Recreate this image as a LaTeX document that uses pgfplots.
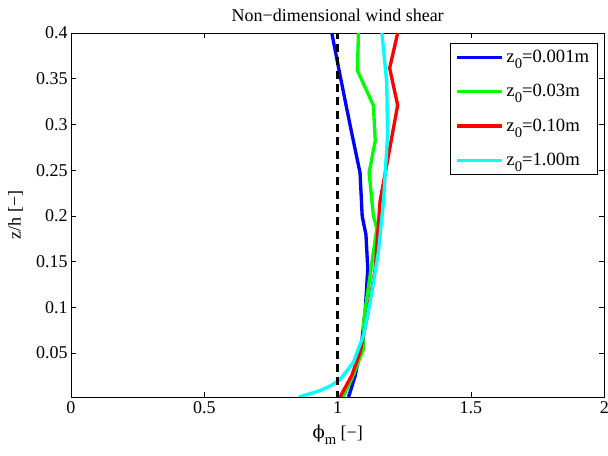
\documentclass[border=0pt]{standalone}
\usepackage{fontspec}
\setmainfont{Liberation Serif}
\newfontfamily\symf{DejaVu Serif}
\usepackage{pgfplots}
\pgfplotsset{compat=1.18}
\definecolor{mblue}{rgb}{0,0,1}
\definecolor{mgreen}{rgb}{0,1,0}
\definecolor{mred}{rgb}{1,0,0}
\definecolor{mcyan}{rgb}{0,1,1}
\newcommand{\sub}[1]{\raisebox{-4.5pt}{\fontsize{11}{12}\selectfont #1}}
\begin{document}
\begin{tikzpicture}
\useasboundingbox (-53.25pt,-44.25pt) rectangle (402.75pt,297.75pt);
\begin{axis}[
  at={(0,0)}, anchor=south west,
  scale only axis, width=400pt, height=273pt,
  xmin=0, xmax=2, ymin=0.002, ymax=0.4,
  xtick={0,0.5,1,1.5,2},
  ytick={0.05,0.1,0.15,0.2,0.25,0.3,0.35,0.4},
  yticklabels={0.05,0.1,0.15,0.2,0.25,0.3,0.35,0.4},
  xticklabels={0,0.5,1,1.5,2},
  tick align=inside, tick pos=both,
  major tick length=4pt,
  tick style={black, thin},
  axis line style={black, thin},
  ticklabel style={font=\fontsize{13.5}{15}\selectfont},
  yticklabel style={xshift=1pt},
  /pgf/number format/assume math mode=true,
  title={Non−dimensional wind shear},
  title style={font=\fontsize{13.5}{15}\selectfont, yshift=-1pt},
  xlabel={{\symf ϕ}\sub{m} [−]},
  ylabel={z/h [−]},
  label style={font=\fontsize{13.5}{15}\selectfont},
  xlabel style={yshift=-1pt},
  ylabel style={yshift=3pt},
  legend cell align=left,
  legend style={font=\fontsize{14}{16}\selectfont, draw=black, thin, at={(0.987,0.972)}, anchor=north east, inner xsep=4pt, inner ysep=3pt, row sep=11pt},
  legend image code/.code={\draw[#1, line width=2.5pt] (0pt,0pt) -- (34pt,0pt);},
]
\addplot[mblue, line width=2.5pt] coordinates {
(1.041,0.002) (1.066,0.0256) (1.09,0.0619) (1.103,0.0949) (1.113,0.1423) (1.106,0.1797) (1.092,0.1996) (1.084,0.2469) (1.047,0.2987) (1.009,0.3537) (0.978,0.4)};
\addlegendentry{z\sub{0}=0.001m}
\addplot[mgreen, line width=2.5pt] coordinates {
(1.021,0.002) (1.058,0.0256) (1.096,0.054) (1.097,0.084) (1.125,0.1423) (1.147,0.1863) (1.134,0.2) (1.118,0.2473) (1.141,0.2822) (1.134,0.3207) (1.074,0.359) (1.078,0.4)};
\addlegendentry{z\sub{0}=0.03m}
\addplot[mred, line width=2.5pt] coordinates {
(1.009,0.002) (1.053,0.0256) (1.084,0.051) (1.109,0.087) (1.141,0.1423) (1.159,0.216) (1.225,0.321) (1.195,0.3615) (1.225,0.4)};
\addlegendentry{z\sub{0}=0.10m}
\addplot[mcyan, line width=2.5pt] coordinates {
(0.855,0.002) (0.934,0.009) (0.975,0.0145) (1.009,0.021) (1.059,0.0399) (1.097,0.0696) (1.122,0.106) (1.153,0.161) (1.172,0.216) (1.187,0.288) (1.184,0.346) (1.166,0.4)};
\addlegendentry{z\sub{0}=1.00m}
\addplot[black, line width=1.8pt, dash pattern=on 6pt off 4pt, forget plot] coordinates {(1,0) (1,0.4)};
\end{axis}
\end{tikzpicture}
\end{document}
